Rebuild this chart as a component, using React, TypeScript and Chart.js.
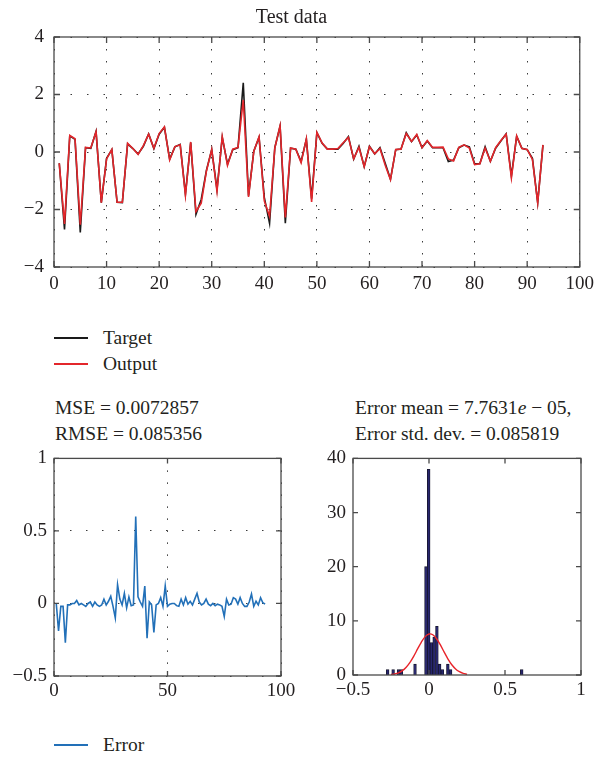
import React, { useEffect, useRef } from 'react';
import { Chart, registerables } from 'chart.js';

Chart.register(...registerables);

// ---------- data ----------
const sampleIndex = [
  1, 2, 3, 4, 5, 6, 7, 8, 9, 10, 11, 12, 13, 14, 15, 16, 17, 18, 19, 20,
  21, 22, 23, 24, 25, 26, 27, 28, 29, 30, 31, 32, 33, 34, 35, 36, 37, 38, 39, 40,
  41, 42, 43, 44, 45, 46, 47, 48, 49, 50, 51, 52, 53, 54, 55, 56, 57, 58, 59, 60,
  61, 62, 63, 64, 65, 66, 67, 68, 69, 70, 71, 72, 73, 74, 75, 76, 77, 78, 79, 80,
  81, 82, 83, 84, 85, 86, 87, 88, 89, 90, 91, 92, 93,
];

const targetValues = [
  -0.39, -2.69, 0.56, 0.44, -2.8, 0.15, 0.13, 0.71, -1.76, -0.22,
  0.08, -1.75, -1.76, 0.28, 0.12, -0.07, 0.2, 0.63, 0.12, 0.62,
  0.86, -0.25, 0.18, 0.26, -1.46, 0.33, -2.17, -1.65, -0.63, 0.08,
  -1.3, 0.51, -0.42, 0.08, 0.15, 2.41, -1.52, 0.03, 0.51, -1.58,
  -2.48, 0.15, 0.9, -2.48, 0.13, 0.1, -0.33, 0.44, -1.62, 0.67,
  0.3, 0.1, 0.1, 0.1, 0.3, 0.54, -0.25, 0.2, -0.51, 0.2,
  -0.07, 0.15, -0.39, -0.95, 0.08, 0.1, 0.67, 0.36, 0.59, 0.15,
  0.38, 0.15, 0.15, 0.15, -0.33, -0.28, 0.15, 0.24, 0.18, -0.41,
  -0.41, 0.18, -0.32, 0.13, 0.38, 0.63, -0.83, 0.54, 0.13, 0.08,
  -0.22, -1.76, 0.24,
];

const outputValues = [
  -0.39, -2.5, 0.58, 0.46, -2.53, 0.16, 0.14, 0.71, -1.76, -0.24,
  0.09, -1.75, -1.75, 0.3, 0.12, -0.08, 0.22, 0.62, 0.13, 0.64,
  0.87, -0.28, 0.19, 0.25, -1.51, 0.35, -2.07, -1.78, -0.66, 0.09,
  -1.37, 0.54, -0.47, 0.1, 0.16, 1.81, -1.56, 0.02, 0.53, -1.7,
  -2.24, 0.14, 0.91, -2.28, 0.14, 0.1, -0.37, 0.46, -1.74, 0.69,
  0.31, 0.1, 0.1, 0.12, 0.32, 0.51, -0.24, 0.16, -0.51, 0.19,
  -0.06, 0.12, -0.46, -0.96, 0.09, 0.1, 0.64, 0.37, 0.61, 0.15,
  0.4, 0.16, 0.16, 0.17, -0.24, -0.31, 0.16, 0.25, 0.14, -0.44,
  -0.41, 0.14, -0.32, 0.15, 0.4, 0.62, -0.9, 0.56, 0.12, 0.09,
  -0.26, -1.77, 0.25,
];

const errorValues = [
  0.0, -0.19, -0.02, -0.02, -0.27, -0.01, -0.01, 0.0, 0.0, 0.02,
  -0.01, 0.0, -0.01, -0.02, 0.0, 0.01, -0.02, 0.01, -0.01, -0.02,
  -0.01, 0.03, -0.01, 0.015, 0.05, -0.02, -0.1, 0.13, 0.03, -0.01,
  0.07, -0.03, 0.045, -0.015, -0.01, 0.6, 0.045, 0.01, -0.02, 0.12,
  -0.24, 0.01, -0.01, -0.2, -0.01, 0.0, 0.04, -0.02, 0.12, -0.02,
  -0.005, 0.0, 0.0, -0.015, -0.02, 0.03, -0.01, 0.04, -0.005, 0.015,
  -0.01, 0.03, 0.07, 0.01, -0.01, 0.0, 0.03, -0.005, -0.015, 0.0,
  -0.015, -0.005, -0.01, -0.02, -0.09, 0.03, -0.01, -0.005, 0.04, 0.03,
  -0.005, 0.04, 0.0, -0.02, -0.02, 0.01, 0.065, -0.02, 0.015, -0.01,
  0.04, 0.005, -0.005,
];

const binCenters = [-0.272, -0.236, -0.2, -0.182, -0.092, -0.02, -0.002, 0.016, 0.034, 0.052, 0.07, 0.088, 0.124, 0.142, 0.61];
const binCounts = [1, 1, 1, 1, 2, 20, 38, 6, 7, 9, 2, 1, 2, 1, 1];

const fitX = [-0.25, -0.225, -0.2, -0.175, -0.15, -0.125, -0.1, -0.075, -0.05, -0.025, 0, 0.025, 0.05, 0.075, 0.1, 0.125, 0.15, 0.175, 0.2, 0.225, 0.25];
const fitY = [0.09, 0.2, 0.41, 0.8, 1.43, 2.33, 3.49, 4.81, 6.09, 7.09, 7.57, 7.43, 6.7, 5.55, 4.22, 2.95, 1.9, 1.12, 0.61, 0.3, 0.14];

const topXTicks = [0, 10, 20, 30, 40, 50, 60, 70, 80, 90, 100];
const topYTicks = [-4, -2, 0, 2, 4];
const errXTicks = [0, 50, 100];
const errYTicks = [-0.5, 0, 0.5, 1];
const histXTicks = [-0.5, 0, 0.5, 1];
const histYTicks = [0, 10, 20, 30, 40];

// ---------- styling ----------
const FONT = 'Liberation Serif';
const TEXT = '#231f20';
Chart.defaults.font.family = FONT;
Chart.defaults.font.size = 19;
Chart.defaults.color = TEXT;

const fmt = (v: number) => String(v).replace('-', '\u2212');

const framePlugin = {
  id: 'frameTicks',
  afterDraw(chart: any, _args: any, opts: any) {
    const { ctx, chartArea: a } = chart;
    const len = opts.len || 5;
    ctx.save();
    ctx.strokeStyle = '#4a4a4a';
    ctx.lineWidth = 1.3;
    ctx.strokeRect(a.left, a.top, a.right - a.left, a.bottom - a.top);
    const xs = chart.scales.x;
    const ys = chart.scales.y;
    ctx.beginPath();
    xs.ticks.forEach((t: any) => {
      const px = xs.getPixelForValue(t.value);
      ctx.moveTo(px, a.bottom);
      ctx.lineTo(px, a.bottom - len);
      ctx.moveTo(px, a.top);
      ctx.lineTo(px, a.top + len);
    });
    ys.ticks.forEach((t: any) => {
      const py = ys.getPixelForValue(t.value);
      ctx.moveTo(a.left, py);
      ctx.lineTo(a.left + len, py);
      ctx.moveTo(a.right, py);
      ctx.lineTo(a.right - len, py);
    });
    ctx.stroke();
    ctx.restore();
  },
};

function axis(
  ticks: number[],
  min: number,
  max: number,
  fit: { width?: number; height?: number },
  grid: boolean,
  dash: number[],
  pad: number
) {
  return {
    type: 'linear',
    min,
    max,
    offset: false,
    afterBuildTicks: (ax: any) => {
      ax.ticks = ticks.map((v) => ({ value: v }));
    },
    afterFit: (ax: any) => {
      if (fit.width !== undefined) ax.width = fit.width;
      if (fit.height !== undefined) ax.height = fit.height;
    },
    ticks: {
      autoSkip: false,
      maxRotation: 0,
      padding: pad,
      color: TEXT,
      font: { family: FONT, size: 19 },
      callback: (v: any) => fmt(v),
    },
    grid: grid
      ? { display: true, color: '#3a3a3a', lineWidth: 1, drawTicks: false }
      : { display: false, drawTicks: false },
    border: { display: false, dash },
  };
}

function useChart(ref: React.RefObject<HTMLCanvasElement>, make: () => any) {
  useEffect(() => {
    if (!ref.current) return;
    const chart = new Chart(ref.current, make());
    return () => chart.destroy();
  }, []);
}

const TopChart = () => {
  const ref = useRef<HTMLCanvasElement>(null);
  useChart(ref, () => ({
    type: 'line',
    data: {
      datasets: [
        {
          label: 'Target',
          data: sampleIndex.map((x, i) => ({ x, y: targetValues[i] })),
          borderColor: '#1a1a1a',
          borderWidth: 1.6,
          pointRadius: 0,
          tension: 0,
          order: 2,
        },
        {
          label: 'Output',
          data: sampleIndex.map((x, i) => ({ x, y: outputValues[i] })),
          borderColor: '#e3262b',
          borderWidth: 1.6,
          pointRadius: 0,
          tension: 0,
          order: 1,
        },
      ],
    },
    options: {
      animation: false,
      responsive: false,
      layout: { padding: { top: 0, right: 17, left: 0, bottom: 0 } },
      plugins: {
        legend: { display: false },
        tooltip: { enabled: false },
        title: {
          display: true,
          text: 'Test data',
          color: TEXT,
          font: { family: FONT, size: 20, weight: 'normal' },
          padding: { top: 6, bottom: 7 },
        },
        frameTicks: { len: 6 },
      },
      scales: {
        x: axis(topXTicks, 0, 100, { height: 33 }, true, [1.5, 10.5], 6),
        y: axis(topYTicks, -4, 4, { width: 54 }, true, [1.5, 15], 10),
      },
    },
    plugins: [framePlugin],
  }));
  return <canvas ref={ref} width={600} height={300} style={{ position: 'absolute', left: 0, top: 0, width: 600, height: 300 }} />;
};

const ErrorChart = () => {
  const ref = useRef<HTMLCanvasElement>(null);
  useChart(ref, () => ({
    type: 'line',
    data: {
      datasets: [
        {
          label: 'Error',
          data: sampleIndex.map((x, i) => ({ x, y: errorValues[i] })),
          borderColor: '#2270b8',
          borderWidth: 1.6,
          pointRadius: 0,
          tension: 0,
        },
      ],
    },
    options: {
      animation: false,
      responsive: false,
      layout: { padding: { top: 13, right: 19, left: 0, bottom: 0 } },
      plugins: {
        legend: { display: false },
        tooltip: { enabled: false },
        frameTicks: { len: 5 },
      },
      scales: {
        x: axis(errXTicks, 0, 100, { height: 33 }, true, [1.5, 10.5], 4),
        y: axis(errYTicks, -0.5, 1, { width: 54 }, true, [1.5, 14.5], 7),
      },
    },
    plugins: [framePlugin],
  }));
  return <canvas ref={ref} width={300} height={269} style={{ position: 'absolute', left: 0, top: 440, width: 300, height: 269 }} />;
};

const HistChart = () => {
  const ref = useRef<HTMLCanvasElement>(null);
  useChart(ref, () => ({
    type: 'bar',
    data: {
      datasets: [
        {
          type: 'line',
          label: 'Fit',
          data: fitX.map((x, i) => ({ x, y: fitY[i] })),
          borderColor: '#e8242a',
          borderWidth: 1.4,
          pointRadius: 0,
          tension: 0.3,
          order: 1,
        },
        {
          type: 'bar',
          label: 'Errors',
          data: binCenters.map((x, i) => ({ x, y: binCounts[i] })),
          backgroundColor: '#27266e',
          borderColor: '#15152a',
          borderWidth: 0.8,
          barPercentage: 1,
          categoryPercentage: 1,
          order: 2,
        },
      ],
    },
    options: {
      animation: false,
      responsive: false,
      layout: { padding: { top: 13, right: 19, left: 0, bottom: 0 } },
      plugins: {
        legend: { display: false },
        tooltip: { enabled: false },
        frameTicks: { len: 5 },
      },
      scales: {
        x: axis(histXTicks, -0.5, 1, { height: 34 }, false, [], 4),
        y: axis(histYTicks, 0, 40, { width: 53 }, false, [], 7),
      },
    },
    plugins: [framePlugin],
  }));
  return <canvas ref={ref} width={300} height={269} style={{ position: 'absolute', left: 300, top: 440, width: 300, height: 269 }} />;
};

const textStyle = (left: number, cy: number): React.CSSProperties => ({
  position: 'absolute',
  left,
  top: cy - 12,
  height: 24,
  lineHeight: '24px',
  fontFamily: FONT,
  fontSize: 19.5,
  color: TEXT,
  whiteSpace: 'nowrap',
});

const LegendItem = ({ cy, color, label }: { cy: number; color: string; label: string }) => (
  <>
    <div style={{ position: 'absolute', left: 54, top: cy - 0.75, width: 34, height: 1.5, background: color }} />
    <div style={textStyle(103, cy)}>{label}</div>
  </>
);

export default function App() {
  return (
    <div style={{ position: 'fixed', left: 0, top: 0, width: 600, height: 759, background: '#fff', overflow: 'hidden' }}>
      <TopChart />
      <LegendItem cy={338} color="#1a1a1a" label="Target" />
      <LegendItem cy={364} color="#e3262b" label="Output" />
      <div style={textStyle(55, 408)}>MSE = 0.0072857</div>
      <div style={textStyle(55, 434)}>RMSE = 0.085356</div>
      <div style={textStyle(355, 408)}>
        Error mean = 7.7631<i>e</i> − 05,
      </div>
      <div style={textStyle(355, 434)}>Error std. dev. = 0.085819</div>
      <ErrorChart />
      <HistChart />
      <LegendItem cy={745} color="#2270b8" label="Error" />
    </div>
  );
}
